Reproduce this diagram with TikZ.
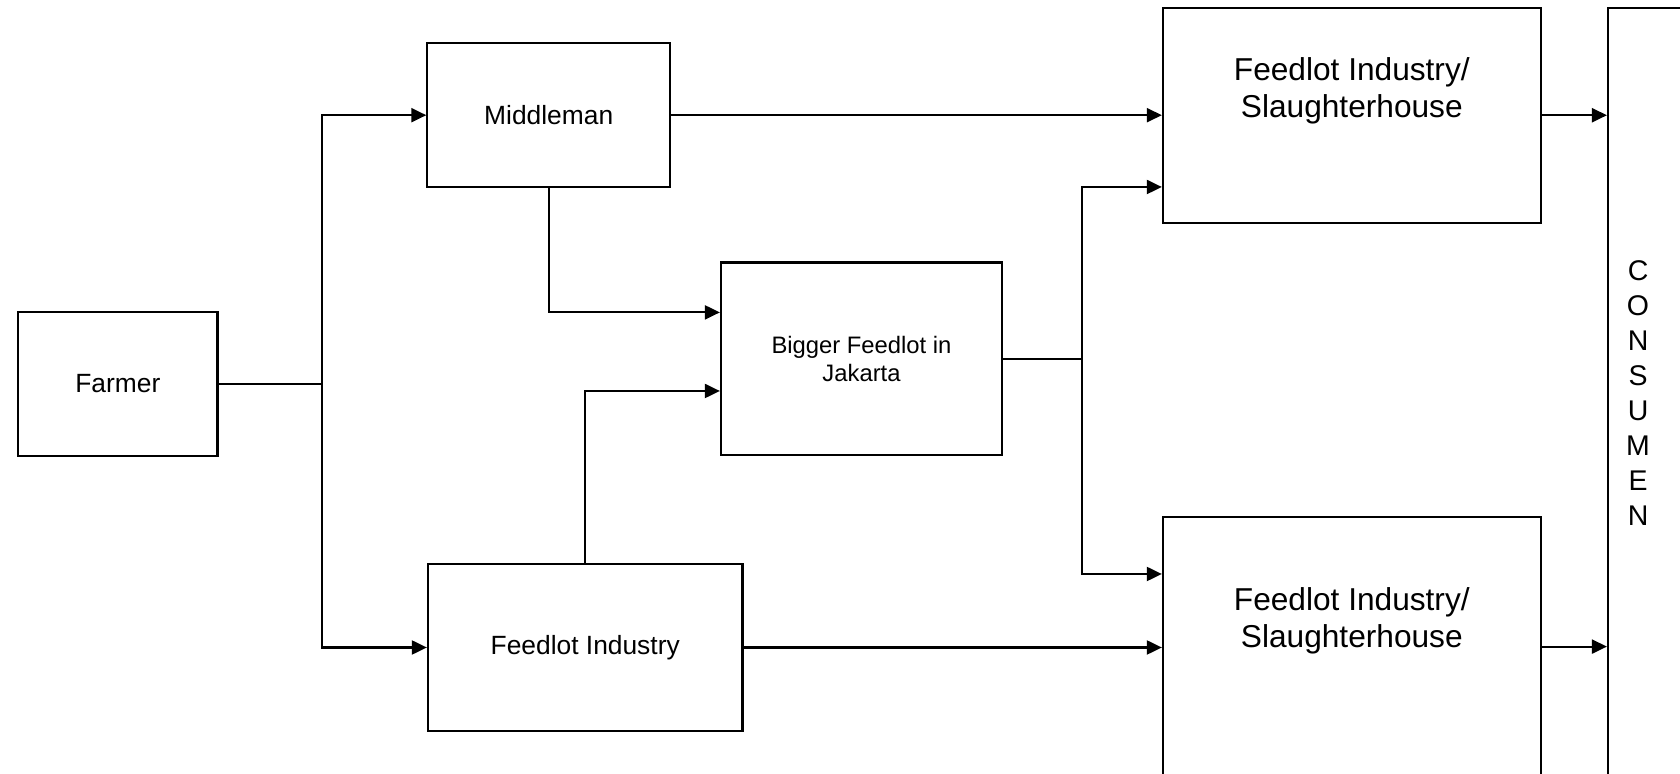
\documentclass[tikz,border=0pt]{standalone}
\usepackage{fontspec}
\setmainfont{Liberation Sans}
\usetikzlibrary{calc,arrows.meta}

\begin{document}
\begin{tikzpicture}[x=0.01cm,y=-0.01cm,line width=0.6pt,
	box/.style={draw,rectangle,inner sep=0pt,font=\fontsize{7.5}{9}\selectfont},
	bigtxt/.style={inner sep=0pt,align=center,font=\fontsize{9}{10.64}\selectfont},
	flow/.style={-{Triangle[length=0.15cm,width=0.14cm]}}]
\useasboundingbox (0,0) rectangle (1680,774);

		%boxes
		\node[box,minimum width=1.993cm,minimum height=1.436cm] (farmer) at (117.8,383.8){Farmer};
		\node[box,minimum width=2.426cm,minimum height=1.436cm] (middleman) at (548.7,115.2){Middleman};
		\node[box,minimum width=3.144cm,minimum height=1.67cm] (feedind) at (585.2,647.5){Feedlot Industry};
		\node[box,minimum width=2.81cm,minimum height=1.924cm,align=center,font=\fontsize{6.77}{7.88}\selectfont] (bigger) at (861.5,358.8){Bigger Feedlot in\\Jakarta};
\node[box,minimum width=3.776cm,minimum height=2.147cm] (fsTop) at (1351.8,115.25){};
\node[box,minimum width=3.776cm,minimum height=2.827cm] (fsBot) at (1351.8,658.6){};
\node[box,minimum width=1.12cm,minimum height=7.92cm] (consumen) at (1664,404){};
%texts
\node[bigtxt,anchor=north] (fsTopTxt) at (1351.8,56.2){Feedlot Industry/\\Slaughterhouse};
\node[bigtxt,anchor=north] (fsBotTxt) at (1351.8,586.5){Feedlot Industry/\\Slaughterhouse};
\node[inner sep=0pt,align=center,font=\fontsize{8.1}{9.96}\selectfont] (conTxt) at (1638,393.4){C\\O\\N\\S\\U\\M\\E\\N};
%junctions
\coordinate (j1) at (322,383.8);
\coordinate (j2) at (1082,358.8);
\coordinate (fsBotOut) at ($(fsBot.east)+(0,-12)$);
%edges
\draw (farmer.east) -- (j1);
\draw[flow] (j1) |- (middleman.west);
\draw[flow] (j1) |- (feedind.west);
\draw[flow] (middleman.east) -- (middleman.east -| fsTop.west);
\draw[flow] (middleman.south) |- ($(bigger.west)+(0,-46.4)$);
\draw[flow] (feedind.north) |- ($(bigger.west)+(0,32.2)$);
\draw (bigger.east) -- (j2);
\draw[flow] (j2) |- ($(fsTop.west)+(0,71.75)$);
\draw[flow] (j2) |- ($(fsBot.west)+(0,-84.6)$);
\draw[flow] (feedind.east) -- (feedind.east -| fsBot.west);
\draw[flow] (fsTop.east) -- (fsTop.east -| consumen.west);
\draw[flow] (fsBotOut) -- (fsBotOut -| consumen.west);
\end{tikzpicture}
\end{document}
